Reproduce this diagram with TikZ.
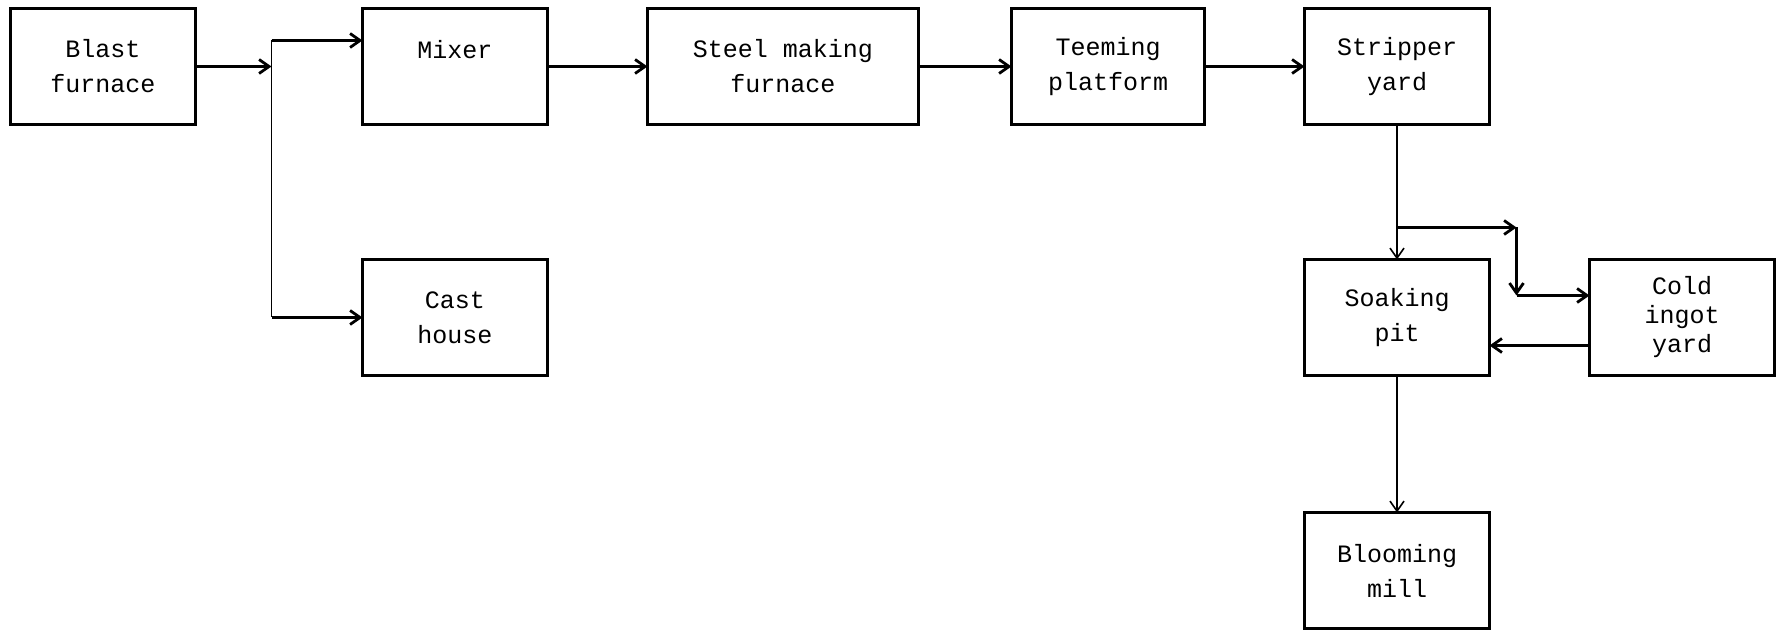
\documentclass[tikz,border=0pt]{standalone}
\usepackage{fontspec}
\setmonofont{Liberation Mono}
\usetikzlibrary{arrows.meta,positioning,calc}

\begin{document}
\begin{tikzpicture}[
  node distance=67.5pt and 50pt,
  stage/.style={rectangle, draw=black, line width=1.1pt, outer sep=0pt,
                minimum width=92.5pt, minimum height=58pt,
                align=center, font=\fontsize{12.5}{17.5}\selectfont\ttfamily},
  arrow/.style={-{Straight Barb[length=5pt,width=7pt]}, line width=1.4pt, black},
  thin arrow/.style={arrow, line width=0.8pt},
  thin line/.style={line width=0.8pt, black}
]
\useasboundingbox (-51.5pt,-281.6pt) rectangle (840pt,33.25pt);

\node[stage] (bf) {Blast\\furnace};
\node[stage, right=83.5pt of bf] (mixer) {Mixer\\~};
\node[stage, below=of mixer] (cast) {Cast\\house};
\node[stage, right=of mixer, minimum width=135.5pt] (smf) {Steel making\\furnace};
\node[stage, right=46.5pt of smf, minimum width=96.5pt] (teem) {Teeming\\platform};
\node[stage, right=of teem] (strip) {Stripper\\yard};
\node[stage, below=of strip] (soak) {Soaking\\pit};
\node[stage, right=of soak, font=\fontsize{12.5}{14.5}\selectfont\ttfamily] (cold) {Cold\\ingot\\yard};
\node[stage, below=68.5pt of soak] (bloom) {Blooming\\mill};

% hot metal split
\coordinate (fork) at ([xshift=38pt]bf.east);
\coordinate (upper) at ($(fork |- mixer.west)+(0,13pt)$);
\coordinate (lower) at (fork |- cast.west);
\draw[arrow] (bf) -- (fork);
\draw[thin line] (upper) -- (lower);
\draw[arrow] (upper) -- (upper -| mixer.west);
\draw[arrow] (lower) -- (cast);

\draw[arrow] (mixer) -- (smf);
\draw[arrow] (smf) -- (teem);
\draw[arrow] (teem) -- (strip);

% ingots
\draw[thin arrow] (strip) -- (soak);
\coordinate (tap) at ([yshift=16pt]soak.north);
\coordinate (turn) at ($(tap -| soak.east)+(13.5pt,0)$);
\coordinate (drop) at ($(turn |- cold.west)+(0,11pt)$);
\draw[arrow] (tap) -- (turn);
\draw[arrow] (turn) -- (drop);
\draw[arrow] (drop) -- (drop -| cold.west);
\draw[arrow] ([yshift=-14pt]cold.west) -- ([yshift=-14pt]soak.east);
\draw[thin arrow] (soak) -- (bloom);
\end{tikzpicture}
\end{document}
